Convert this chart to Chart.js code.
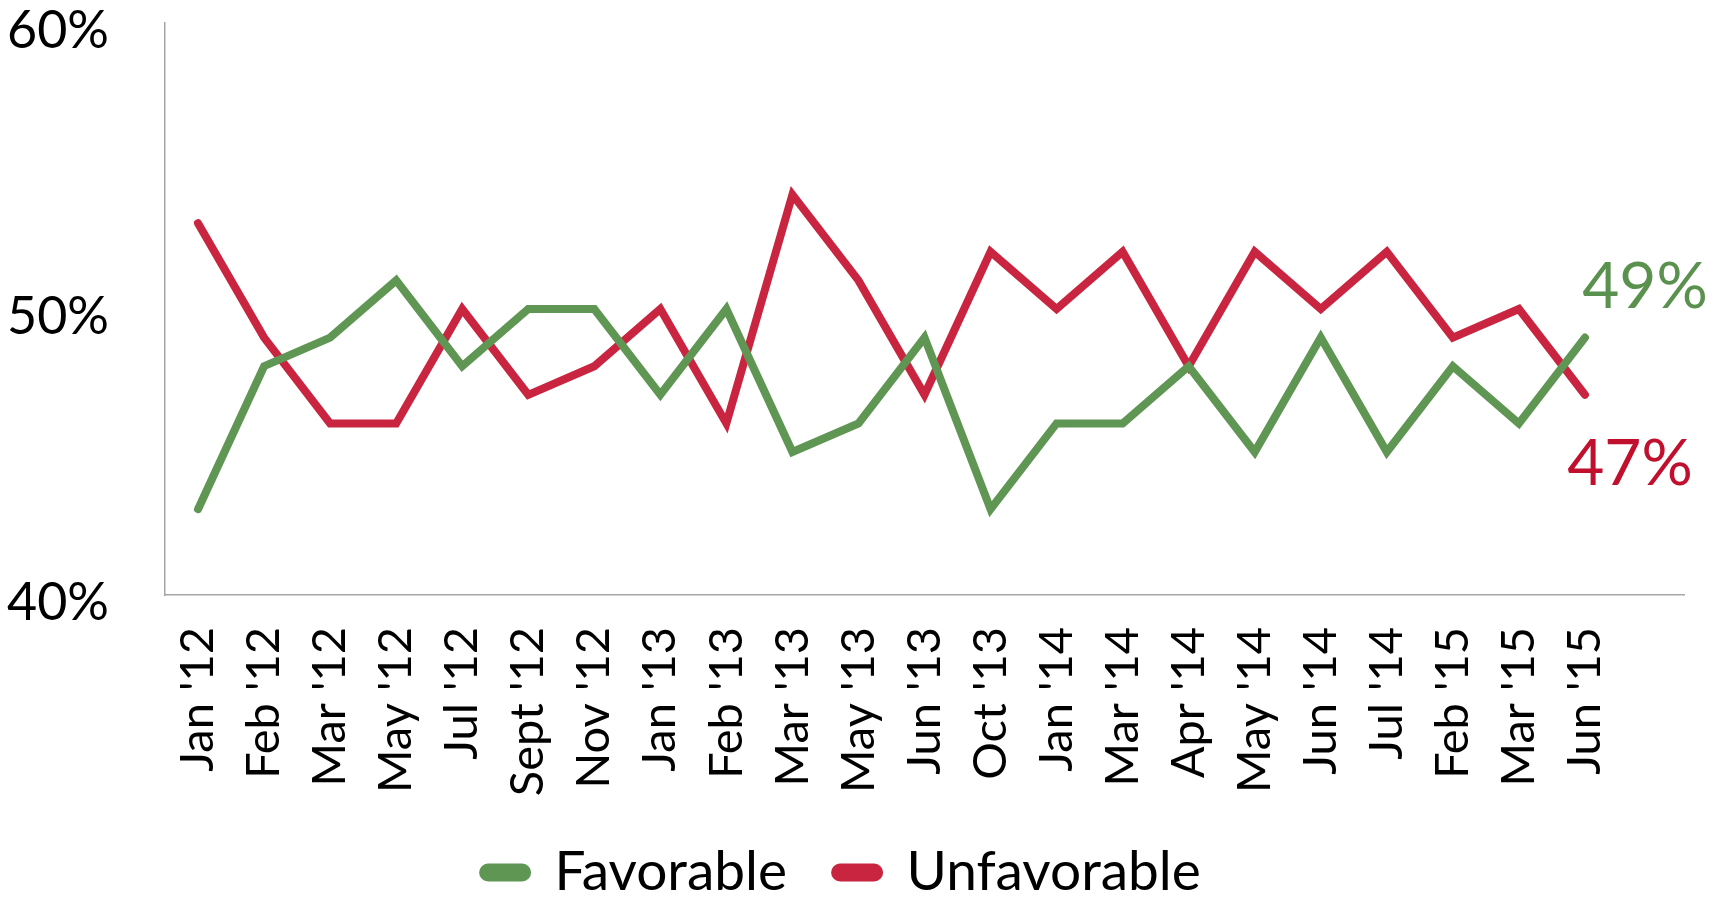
<!DOCTYPE html>
<html>
<head>
<meta charset="utf-8">
<script src="https://cdn.jsdelivr.net/npm/chart.js@4"></script>
<style>
  html, body { margin: 0; padding: 0; background: #fff; }
  #wrap { width: 1725px; height: 899px; position: relative; }
</style>
</head>
<body>
<div id="wrap"><canvas id="chart"></canvas></div>
<script>
// ===== DATA =====
const months = [
  "Jan '12", "Feb '12", "Mar '12", "May '12", "Jul '12", "Sept '12", "Nov '12",
  "Jan '13", "Feb '13", "Mar '13", "May '13", "Jun '13", "Oct '13",
  "Jan '14", "Mar '14", "Apr '14", "May '14", "Jun '14", "Jul '14",
  "Feb '15", "Mar '15", "Jun '15"
];
const favorable   = [43, 48, 49, 51, 48, 50, 50, 47, 50, 45, 46, 49, 43, 46, 46, 48, 45, 49, 45, 48, 46, 49];
const unfavorable = [53, 49, 46, 46, 50, 47, 48, 50, 46, 54, 51, 47, 52, 50, 52, 48, 52, 50, 52, 49, 50, 47];
const yTicks = [40, 50, 60];

// ===== COLORS =====
const greenColor = '#5f9653';
const redColor = '#c92540';
const greenText = '#5b914f';
const redText = '#c0102e';
const axisColor = '#a6a6a6';
const fontFamily = "Lato, 'Noto Sans', sans-serif";

// end-of-line value labels ("49%", "47%")
const endLabels = {
  id: 'endLabels',
  afterDatasetsDraw(chart) {
    const { ctx } = chart;
    const specs = [
      { ds: 0, color: greenText, dx: 60, dy: -50 },
      { ds: 1, color: redText, dx: 45, dy: 70 }
    ];
    ctx.save();
    ctx.font = "64px " + fontFamily;
    ctx.textAlign = 'center';
    ctx.textBaseline = 'middle';
    specs.forEach(s => {
      const values = chart.data.datasets[s.ds].data;
      const last = values.length - 1;
      const pt = chart.getDatasetMeta(s.ds).data[last];
      ctx.fillStyle = s.color;
      ctx.fillText(values[last] + '%', pt.x + s.dx, pt.y + s.dy);
    });
    ctx.restore();
  }
};

new Chart(document.getElementById('chart'), {
  type: 'line',
  data: {
    // trailing blank category keeps the axis running past the last month
    labels: [...months, ''],
    datasets: [
      {
        label: 'Favorable',
        data: favorable,
        borderColor: greenColor,
        backgroundColor: greenColor,
        borderWidth: 8,
        borderCapStyle: 'round',
        pointRadius: 0,
        tension: 0
      },
      {
        label: 'Unfavorable',
        data: unfavorable,
        borderColor: redColor,
        backgroundColor: redColor,
        borderWidth: 8,
        borderCapStyle: 'round',
        pointRadius: 0,
        tension: 0
      }
    ]
  },
  options: {
    responsive: true,
    maintainAspectRatio: false,
    animation: false,
    // negative bottom padding pulls the legend row down toward the canvas edge
    layout: { padding: { top: 23, right: 41, left: 0, bottom: -11 } },
    plugins: {
      tooltip: { enabled: false },
      legend: {
        position: 'bottom',
        labels: {
          color: '#000',
          font: { family: fontFamily, size: 55 },
          boxWidth: 44,
          boxHeight: 10,
          useBorderRadius: true,
          borderRadius: 5,
          padding: 48
        }
      }
    },
    scales: {
      x: {
        offset: true,
        grid: { display: false },
        border: { color: axisColor, width: 1.5 },
        ticks: {
          autoSkip: false,
          minRotation: 90,
          maxRotation: 90,
          padding: 24,
          color: '#000',
          font: { family: fontFamily, size: 47 }
        },
        afterFit: (scale) => {
          scale.height = 202;
          scale.paddingLeft = 0;
          scale.paddingRight = 0;
        }
      },
      y: {
        min: 40,
        max: 60,
        grid: { display: false },
        border: { color: axisColor, width: 1.5 },
        afterBuildTicks: (scale) => { scale.ticks = yTicks.map(v => ({ value: v })); },
        ticks: {
          padding: 48,
          labelOffset: 8,
          color: '#000',
          font: { family: fontFamily, size: 52 },
          callback: v => v + '%'
        },
        afterFit: (scale) => {
          scale.width = 165;
          scale.paddingTop = 0;
          scale.paddingBottom = 0;
        }
      }
    }
  },
  plugins: [endLabels]
});
</script>
</body>
</html>
